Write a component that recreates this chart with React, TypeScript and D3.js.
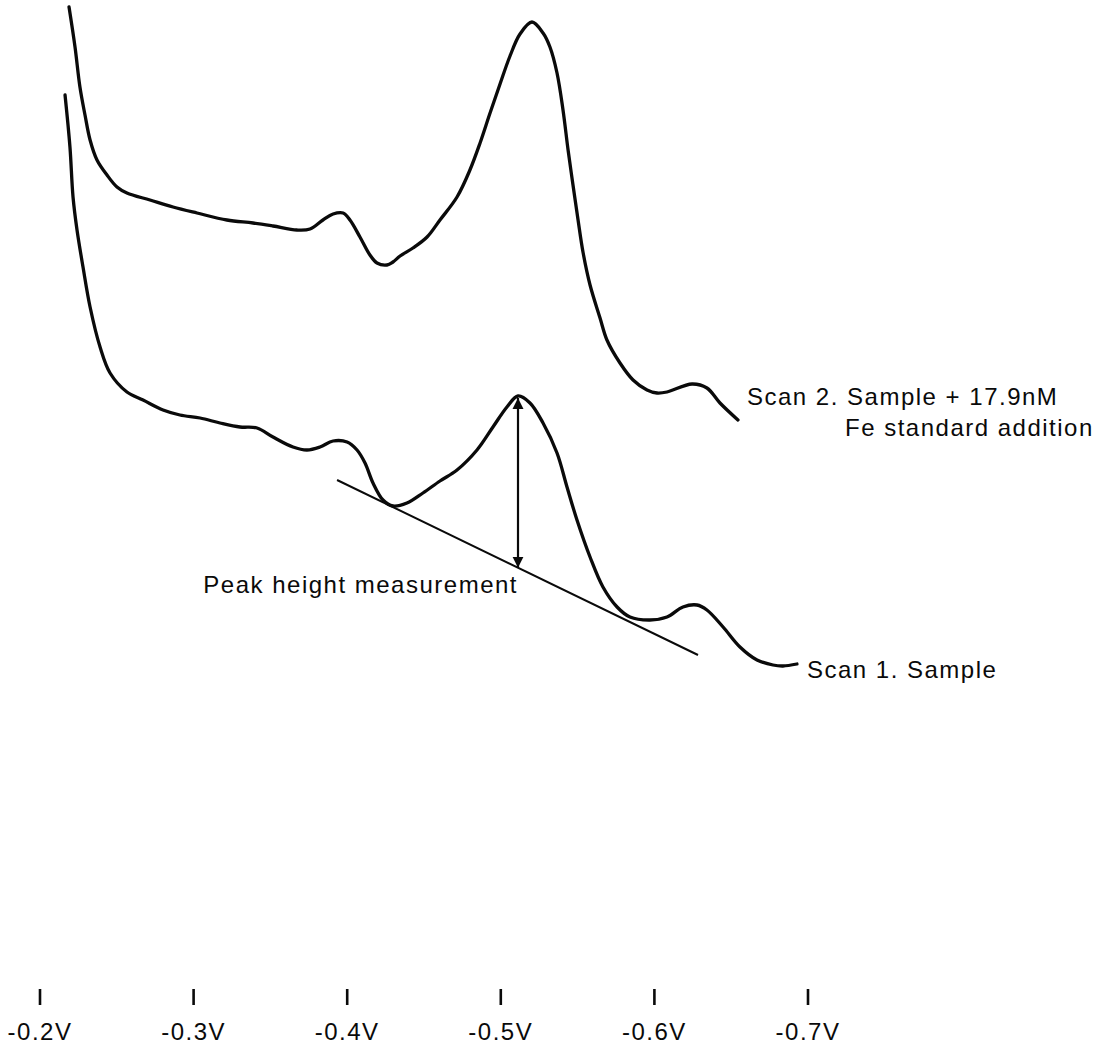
import React from "react";
import * as d3 from "d3";

// Cathodic stripping voltammograms: potential (V) vs. current (arbitrary units)
const SCAN2_V = [-0.2189, -0.2228, -0.226, -0.2293, -0.2326, -0.2371, -0.2436, -0.2501, -0.2566, -0.2716, -0.2866, -0.3022, -0.3217, -0.3387, -0.3517, -0.3673, -0.3758, -0.3842, -0.3908, -0.3973, -0.4018, -0.4083, -0.4148, -0.4194, -0.4259, -0.4298, -0.4344, -0.4428, -0.452, -0.4604, -0.4715, -0.4799, -0.4865, -0.493, -0.4995, -0.506, -0.5125, -0.5203, -0.5275, -0.532, -0.5366, -0.5405, -0.5438, -0.547, -0.5503, -0.5535, -0.5581, -0.5646, -0.5691, -0.5776, -0.5861, -0.5952, -0.6017, -0.6082, -0.6245, -0.6342, -0.6427, -0.6544];
const SCAN2_I = [99.3, 95.3, 91.3, 88.5, 86.0, 84.0, 82.5, 81.3, 80.7, 80.0, 79.3, 78.7, 78.0, 77.7, 77.4, 77.0, 77.1, 78.0, 78.6, 78.7, 78.0, 76.3, 74.5, 73.7, 73.5, 73.8, 74.4, 75.2, 76.3, 78.0, 80.3, 83.0, 85.7, 88.7, 91.6, 94.4, 96.6, 97.8, 96.7, 95.3, 92.7, 89.0, 85.0, 81.5, 78.0, 74.8, 71.5, 68.2, 66.0, 63.7, 62.0, 61.0, 60.7, 60.8, 61.6, 61.2, 59.7, 58.0];

const SCAN1_V = [-0.2163, -0.2195, -0.2215, -0.2241, -0.228, -0.2326, -0.2391, -0.2456, -0.2566, -0.2671, -0.2801, -0.2911, -0.3042, -0.3172, -0.3302, -0.3413, -0.3517, -0.3647, -0.3738, -0.3823, -0.3908, -0.3999, -0.4064, -0.4116, -0.4168, -0.4233, -0.4298, -0.4389, -0.4493, -0.4604, -0.4715, -0.4845, -0.4949, -0.504, -0.5112, -0.519, -0.5275, -0.5366, -0.5431, -0.5496, -0.5581, -0.5665, -0.5757, -0.5841, -0.5971, -0.6082, -0.6186, -0.6277, -0.6342, -0.6447, -0.6557, -0.6668, -0.6772, -0.6837, -0.6928];
const SCAN1_I = [90.5, 85.3, 80.3, 77.0, 73.3, 69.3, 65.3, 62.7, 60.8, 60.0, 59.0, 58.5, 58.2, 57.7, 57.3, 57.2, 56.3, 55.3, 55.0, 55.3, 55.9, 55.8, 55.0, 53.7, 51.7, 50.0, 49.4, 49.7, 50.7, 51.9, 53.0, 55.0, 57.3, 59.3, 60.4, 59.7, 57.7, 54.7, 51.3, 48.0, 44.3, 41.3, 39.3, 38.3, 38.0, 38.3, 39.3, 39.5, 39.0, 37.3, 35.3, 34.0, 33.5, 33.4, 33.6];

// Tangent baseline drawn under the scan 1 peak
const BASELINE_V = [-0.3934, -0.6284];
const BASELINE_I = [52.0, 34.5];

// Potential axis
const TICK_V = [-0.2, -0.3, -0.4, -0.5, -0.6, -0.7];
const TICK_LABELS = ["-0.2V", "-0.3V", "-0.4V", "-0.5V", "-0.6V", "-0.7V"];

const W = 1102;
const H = 1049;
const FONT = "'Liberation Sans', Arial, Helvetica, sans-serif";

export default function App() {
  const x = d3.scaleLinear().domain([-0.2, -0.7]).range([40, 808]);
  const y = d3.scaleLinear().domain([0, 100]).range([1000, 0]);

  const line = d3
    .line<[number, number]>()
    .x((d) => x(d[0]))
    .y((d) => y(d[1]))
    .curve(d3.curveCatmullRom.alpha(0.5));

  const scan1 = SCAN1_V.map((v, i) => [v, SCAN1_I[i]] as [number, number]);
  const scan2 = SCAN2_V.map((v, i) => [v, SCAN2_I[i]] as [number, number]);

  // peak of scan 1 between the two minima, and the baseline value beneath it
  const peakIdx = d3.maxIndex(scan1.slice(30, 40), (d) => d[1]) + 30;
  const [peakV, peakI] = scan1[peakIdx];
  const baseAt = d3.scaleLinear().domain(BASELINE_V).range(BASELINE_I);
  const baseI = baseAt(peakV);

  const textStyle = {
    fontFamily: FONT,
    fontSize: 24,
    letterSpacing: 1.5,
    fill: "#0a0a0a",
  } as React.CSSProperties;

  return (
    <svg
      width={W}
      height={H}
      viewBox={`0 0 ${W} ${H}`}
      style={{ position: "absolute", left: 0, top: 0, background: "#fff" }}
    >
      <defs>
        <marker
          id="arrowHead"
          viewBox="0 0 10 10"
          refX="10"
          refY="5"
          markerWidth="5"
          markerHeight="6"
          orient="auto-start-reverse"
          markerUnits="strokeWidth"
        >
          <path d="M0,0 L10,5 L0,10 Z" fill="#0a0a0a" />
        </marker>
      </defs>

      {/* scans */}
      <path d={line(scan2) ?? ""} fill="none" stroke="#0a0a0a" strokeWidth={3.3} strokeLinejoin="round" strokeLinecap="round" />
      <path d={line(scan1) ?? ""} fill="none" stroke="#0a0a0a" strokeWidth={3.3} strokeLinejoin="round" strokeLinecap="round" />

      {/* baseline */}
      <line
        x1={x(BASELINE_V[0])}
        y1={y(BASELINE_I[0])}
        x2={x(BASELINE_V[1])}
        y2={y(BASELINE_I[1])}
        stroke="#0a0a0a"
        strokeWidth={2}
      />

      {/* peak height arrow */}
      <line
        x1={x(peakV)}
        y1={y(peakI) + 2}
        x2={x(peakV)}
        y2={y(baseI)}
        stroke="#0a0a0a"
        strokeWidth={2.2}
        markerStart="url(#arrowHead)"
        markerEnd="url(#arrowHead)"
      />

      {/* annotations */}
      <text x={x(peakV)} y={593} textAnchor="end" style={textStyle}>
        Peak height measurement
      </text>
      <text x={747} y={405} style={textStyle}>
        Scan 2. Sample + 17.9nM
      </text>
      <text x={845} y={436} style={textStyle}>
        Fe standard addition
      </text>
      <text x={x(SCAN1_V[SCAN1_V.length - 1]) + 10} y={678} style={textStyle}>
        Scan 1. Sample
      </text>

      {/* potential axis ticks */}
      {TICK_V.map((v, i) => (
        <g key={v}>
          <line x1={x(v)} x2={x(v)} y1={989} y2={1005} stroke="#0a0a0a" strokeWidth={2.6} />
          <text x={x(v)} y={1040} textAnchor="middle" style={textStyle}>
            {TICK_LABELS[i]}
          </text>
        </g>
      ))}
    </svg>
  );
}
